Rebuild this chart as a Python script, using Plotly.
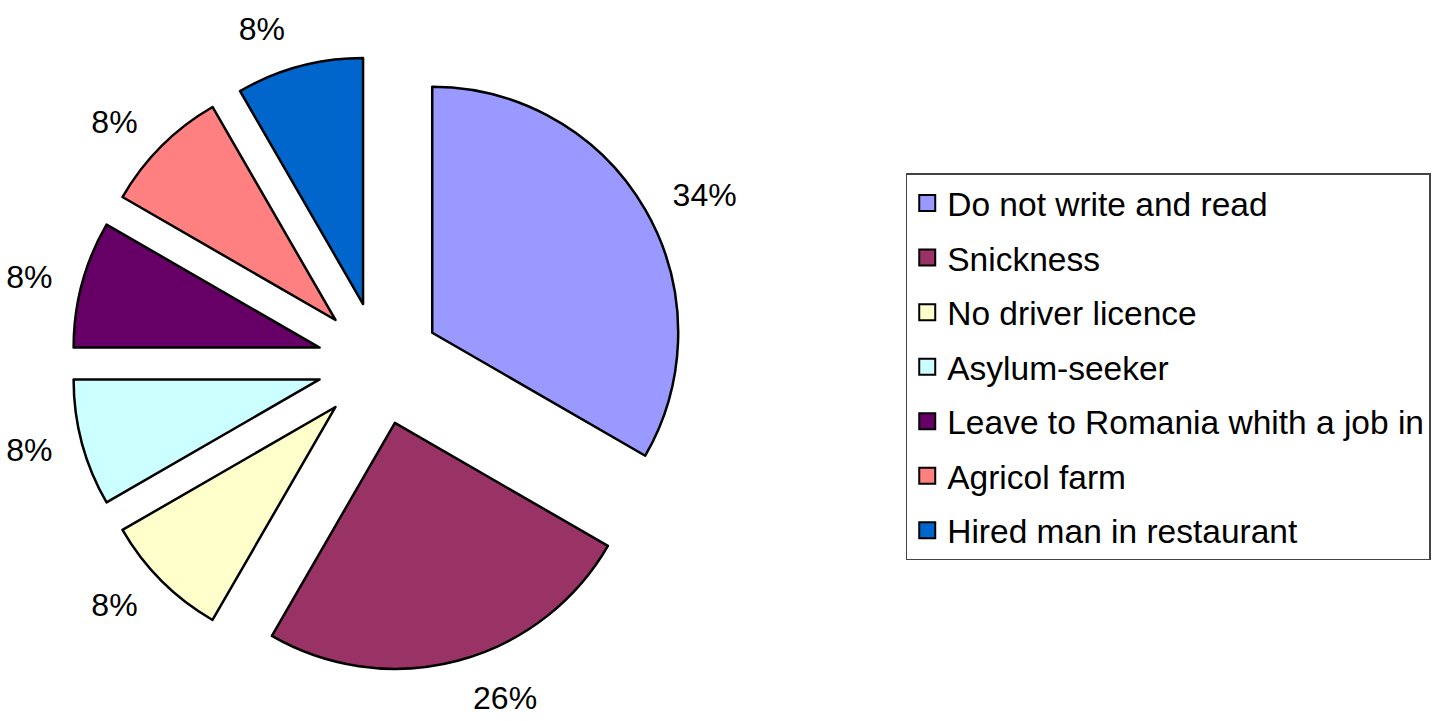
import plotly.graph_objects as go

# ---- data ----
categories = [
    "Do not write and read",
    "Snickness",
    "No driver licence",
    "Asylum-seeker",
    "Leave to Romania whith a job in",
    "Agricol farm",
    "Hired man in restaurant",
]
counts = [4, 3, 1, 1, 1, 1, 1]
pct_labels = ["34%", "26%", "8%", "8%", "8%", "8%", "8%"]
colors = ["#9999FF", "#993366", "#FFFFCC", "#CCFFFF", "#660066", "#FF8080", "#0066CC"]

# ---- layout constants ----
W, H = 1434, 721
CX, CY = 377.5, 365.0      # pie centre (px)
R = 247.0                  # slice radius (px)
PULL = 0.25
R_LABEL = 330.0            # radius of invisible label ring (px)
FONT = "Liberation Sans, Arial, sans-serif"


def dom(half):
    return dict(
        x=[(CX - half) / W, (CX + half) / W],
        y=[1 - (CY + half) / H, 1 - (CY - half) / H],
    )


fig = go.Figure()

# main exploded pie
fig.add_trace(go.Pie(
    labels=categories,
    values=counts,
    sort=False,
    direction="clockwise",
    rotation=0,
    pull=[PULL] * len(counts),
    marker=dict(colors=colors, line=dict(color="black", width=2.5)),
    textinfo="none",
    showlegend=False,
    domain=dom(R * (1 + PULL)),
    hovertemplate="%{label}: %{customdata}<extra></extra>",
    customdata=pct_labels,
))

# invisible ring used only to place the percentage labels
fig.add_trace(go.Pie(
    labels=categories,
    values=counts,
    sort=False,
    direction="clockwise",
    rotation=0,
    marker=dict(colors=["rgba(0,0,0,0)"] * len(counts), line=dict(width=0)),
    text=pct_labels,
    textinfo="text",
    textposition="outside",
    outsidetextfont=dict(family=FONT, size=32, color="black"),
    showlegend=False,
    hoverinfo="skip",
    domain=dom(R_LABEL),
))

# legend entries
for i, (cat, col) in enumerate(zip(categories, colors)):
    fig.add_trace(go.Scatter(
        x=[None], y=[None],
        mode="markers",
        name=cat,
        legendgroup=f"g{i}",
        marker=dict(symbol="square", size=18, color=col,
                    line=dict(color="black", width=2)),
    ))

fig.update_layout(
    width=W, height=H,
    margin=dict(l=0, r=0, t=0, b=0),
    paper_bgcolor="white",
    plot_bgcolor="white",
    xaxis=dict(visible=False),
    yaxis=dict(visible=False),
    legend=dict(
        x=905 / W, xanchor="left",
        y=1 - 174 / H, yanchor="top",
        font=dict(family=FONT, size=33.5, color="black"),
        bordercolor="#444444", borderwidth=1.5,
        bgcolor="white",
        tracegroupgap=8,
        itemclick=False, itemdoubleclick=False,
    ),
    showlegend=True,
)

fig.write_html(
    "out.html",
    config={"displayModeBar": False},
    post_script="document.body.style.margin='0';document.body.style.overflow='hidden';",
)
